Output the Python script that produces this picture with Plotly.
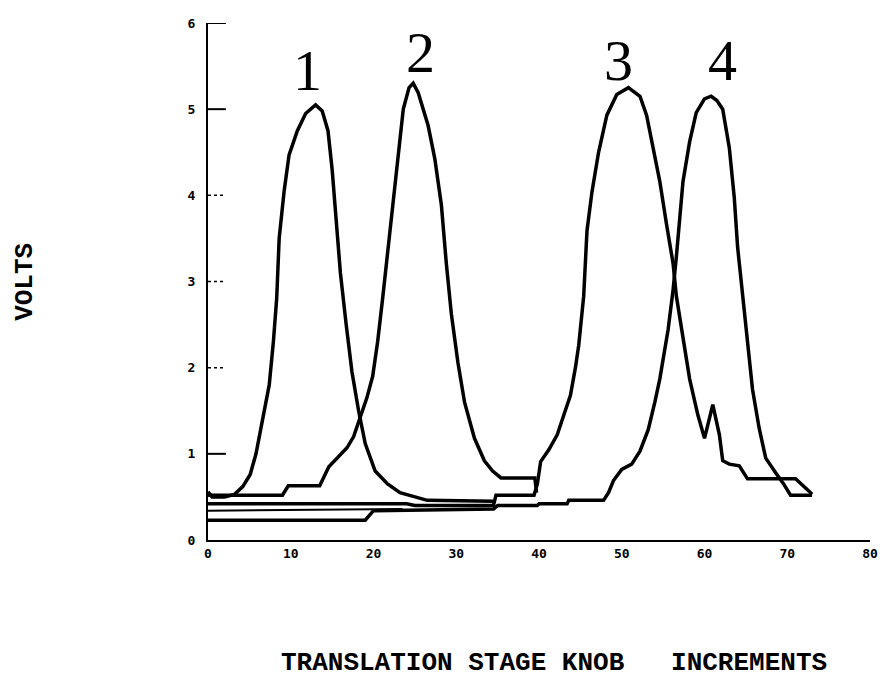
import plotly.graph_objects as go

# ---- data ----
c1_x = [0, 0.5, 2, 3.2, 4.2, 5.1, 5.8, 6.3, 6.9, 7.4, 7.9, 8.3, 8.6, 9.2, 9.8, 10.8, 11.8, 13.0, 13.8, 14.5, 15.0, 15.5, 16.0, 16.7, 17.4, 18.2, 19.0, 20.2, 21.7, 23.2, 25.0, 26.5, 34.5]
c1_y = [0.56, 0.5, 0.5, 0.53, 0.62, 0.76, 1.0, 1.25, 1.55, 1.8, 2.3, 2.8, 3.5, 4.05, 4.47, 4.75, 4.95, 5.05, 4.98, 4.75, 4.3, 3.7, 3.1, 2.5, 1.95, 1.5, 1.12, 0.8, 0.65, 0.55, 0.5, 0.46, 0.45]

c2_x = [0, 9, 9.7, 13.5, 14.6, 15.6, 16.8, 17.6, 18.3, 19.2, 19.9, 20.5, 21.1, 21.8, 22.5, 23.1, 23.6, 24.3, 24.8, 25.4, 26.6, 27.4, 28.2, 28.8, 29.4, 30.2, 31.0, 32.2, 33.4, 34.4, 35.4, 39.5, 39.7]
c2_y = [0.52, 0.52, 0.63, 0.63, 0.85, 0.95, 1.07, 1.2, 1.4, 1.65, 1.9, 2.3, 2.8, 3.4, 3.97, 4.55, 5.0, 5.25, 5.3, 5.19, 4.81, 4.43, 3.89, 3.21, 2.63, 2.06, 1.6, 1.18, 0.92, 0.8, 0.72, 0.72, 0.55]

c3_x = [0, 24, 25, 34.5, 34.8, 39.4, 39.8, 40.2, 41.2, 42.2, 43.0, 43.8, 44.4, 44.8, 45.4, 45.8, 46.4, 47.2, 48.2, 49.4, 50.8, 52.2, 53.0, 53.8, 54.6, 55.4, 56.2, 56.6, 57.4, 58.2, 59.2, 60.0, 61.0, 61.8, 62.2, 63.0, 64.2, 65.2, 68.6, 71.0, 72.6, 73.0]
c3_y = [0.42, 0.42, 0.40, 0.40, 0.52, 0.52, 0.65, 0.91, 1.05, 1.22, 1.45, 1.68, 2.0, 2.26, 2.83, 3.59, 4.04, 4.5, 4.93, 5.17, 5.25, 5.15, 4.93, 4.55, 4.16, 3.67, 3.21, 2.83, 2.33, 1.87, 1.45, 1.18, 1.57, 1.22, 0.92, 0.88, 0.86, 0.71, 0.71, 0.71, 0.57, 0.53]

c4_x = [0, 19, 20, 34.5, 35, 39.8, 40, 43.4, 43.6, 47.8, 48.4, 49, 50, 51.2, 52.2, 53.2, 54, 54.6, 55.6, 56.2, 56.6, 57, 57.4, 58.2, 59, 60, 60.8, 61.5, 62.2, 63, 63.6, 64, 64.6, 65.2, 65.8, 66.6, 67.4, 68.6, 69.5, 70.4, 73]
c4_y = [0.23, 0.23, 0.34, 0.36, 0.40, 0.40, 0.42, 0.42, 0.46, 0.46, 0.55, 0.69, 0.82, 0.88, 1.03, 1.28, 1.6, 1.87, 2.44, 2.9, 3.29, 3.78, 4.16, 4.62, 4.96, 5.12, 5.15, 5.1, 5.0, 4.55, 3.97, 3.4, 2.83, 2.26, 1.75, 1.3, 0.95, 0.78, 0.66, 0.52, 0.52]

c5_x = [0, 23.5]
c5_y = [0.34, 0.36]

peak_labels = ["1", "2", "3", "4"]
peak_x = [12.0, 25.7, 49.6, 62.2]
peak_y = [5.45, 5.66, 5.56, 5.56]

y_ticks = [0, 1, 2, 3, 4, 5, 6]
y_tick_text = ["0", "1", "2", "3", "4", "5", "6"]
y_solid_ticks = [1, 5, 6]
y_dotted_ticks = [2, 3, 4]
x_ticks = [0, 10, 20, 30, 40, 50, 60, 70, 80]
x_tick_text = ["0", "10", "20", "30", "40", "50", "60", "70", "80"]

fig = go.Figure()
for xs, ys, w in [(c1_x, c1_y, 3.5), (c2_x, c2_y, 3.5), (c3_x, c3_y, 3.5), (c4_x, c4_y, 3.5), (c5_x, c5_y, 2)]:
    fig.add_trace(go.Scatter(x=xs, y=ys, mode="lines", line=dict(color="black", width=w),
                             showlegend=False, hoverinfo="skip"))

for lab, px, py in zip(peak_labels, peak_x, peak_y):
    fig.add_annotation(x=px, y=py, xref="x", yref="y", text=lab, showarrow=False,
                       font=dict(family="Liberation Serif", size=58, color="black"),
                       xanchor="center", yanchor="middle")

shapes = []
for t in y_solid_ticks:
    shapes.append(dict(type="line", xref="x domain", yref="y", x0=0, x1=0.027, y0=t, y1=t,
                       line=dict(color="black", width=2)))
for t in y_dotted_ticks:
    shapes.append(dict(type="line", xref="x domain", yref="y", x0=0, x1=0.027, y0=t, y1=t,
                       line=dict(color="black", width=1.5, dash="dot")))
fig.update_layout(shapes=shapes)

fig.add_annotation(xref="paper", yref="paper", x=0.523, y=-0.2385, text="TRANSLATION STAGE KNOB   INCREMENTS",
                   showarrow=False, xanchor="center", yanchor="middle",
                   font=dict(family="Liberation Mono", size=26, color="black", weight="bold"))
fig.add_annotation(xref="paper", yref="paper", x=-0.2774, y=0.5, text="VOLTS", textangle=-90,
                   showarrow=False, xanchor="center", yanchor="middle",
                   font=dict(family="Liberation Mono", size=26, color="black", weight="bold"))

fig.update_xaxes(range=[0, 80], tickvals=x_ticks, ticktext=x_tick_text, showgrid=False, zeroline=False,
                 showline=True, linecolor="black", linewidth=2, ticks="", ticklabeloverflow="allow",
                 tickfont=dict(family="DejaVu Sans Mono", size=13, color="black", weight="bold"))
fig.update_yaxes(range=[0, 6], tickvals=y_ticks, ticktext=y_tick_text, showgrid=False, zeroline=False,
                 showline=True, linecolor="black", linewidth=2, ticks="", ticklabelstandoff=8,
                 ticklabeloverflow="allow",
                 tickfont=dict(family="DejaVu Sans Mono", size=13, color="black", weight="bold"))

# page body has an 8px margin, so the figure is sized/offset to land on the reference's pixels
fig.update_layout(width=878, height=675, margin=dict(l=200, r=11, t=8, b=143),
                  plot_bgcolor="white", paper_bgcolor="white")

fig.write_html("out.html")
